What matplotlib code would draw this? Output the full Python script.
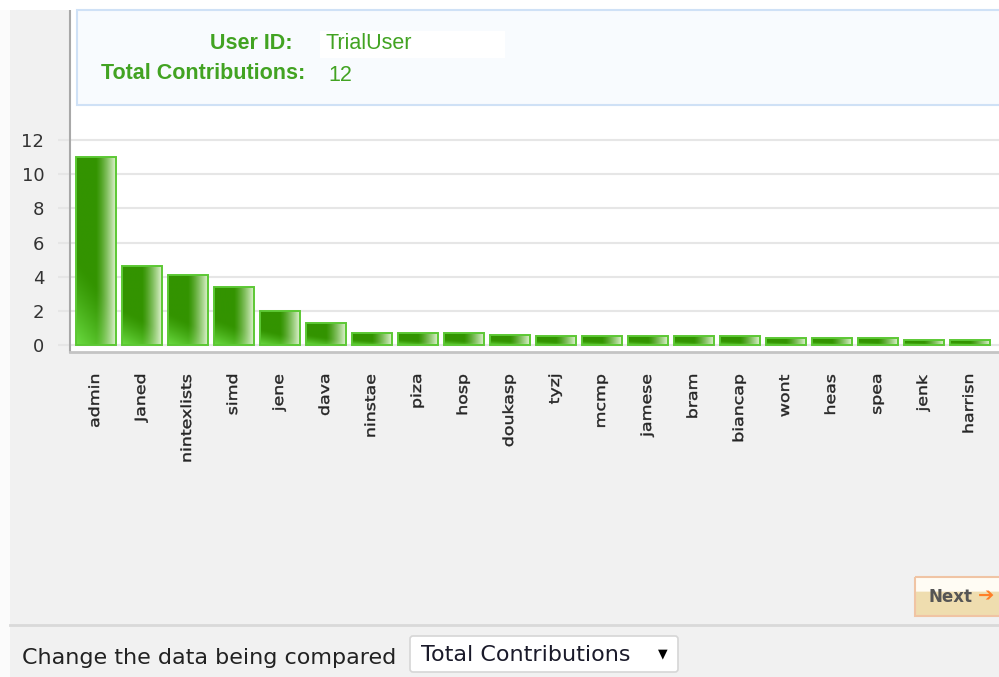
import numpy as np
import matplotlib
matplotlib.use('Agg')
import matplotlib.pyplot as plt
from matplotlib import transforms
from matplotlib.patches import Rectangle, PathPatch, FancyBboxPatch
from matplotlib.textpath import TextPath
from matplotlib.font_manager import FontProperties

# contributions per user
users = ['admin', 'Janed', 'nintexlists', 'simd', 'jene', 'dava', 'ninstae', 'piza',
         'hosp', 'doukasp', 'tyzj', 'mcmp', 'jamese', 'bram', 'biancap', 'wont',
         'heas', 'spea', 'jenk', 'harrisn']
contributions = [11.0, 4.6, 4.1, 3.4, 2.0, 1.3, 0.7, 0.7, 0.7, 0.6,
                 0.5, 0.5, 0.5, 0.5, 0.5, 0.4, 0.4, 0.4, 0.3, 0.3]
y_ticks = [0, 2, 4, 6, 8, 10, 12]
user_id = 'TrialUser'
total_contributions = 12
compare_field = 'Total Contributions'

W, H = 999, 677
green_txt = '#42a322'
fig = plt.figure(figsize=(W / 100, H / 100), dpi=100, facecolor='#f1f1f1')

#%% bar chart
px_per_unit = 17.08
ax = fig.add_axes([70 / W, 1 - 352 / H, 929 / W, 352 / H], zorder=1)
ax.set_facecolor('white')
x = np.arange(len(users))
bars = ax.bar(x, contributions, width=0.85, color='none', edgecolor='#5cc834',
              linewidth=1.4, zorder=3)

# glossy green fill: darker top-left, brighter bottom-left, pale right edge
u = np.linspace(0, 1, 64)[None, :]
v = np.linspace(0, 1, 128)[:, None]
dark = np.array([0.20, 0.58, 0.0])
bright = np.array([0.42, 0.86, 0.26])
pale = np.array([0.87, 0.95, 0.81])
w_low = np.clip(1 - v / 0.45 - u * 0.6, 0, 1) ** 1.3
w_side = np.clip((u - 0.5) / 0.47, 0, 1) ** 1.3
shade = dark + (bright - dark) * w_low[..., None]
shade = shade + (pale - shade) * (0.92 * w_side[..., None])
for b in bars:
    x0, y0, bw, bh = b.get_x(), b.get_y(), b.get_width(), b.get_height()
    im = ax.imshow(shade, extent=[x0, x0 + bw, y0, y0 + bh], origin='lower',
                   aspect='auto', interpolation='bilinear', zorder=2)
    im.set_clip_path(b)

ax.set_xlim(-26 / 46, -26 / 46 + 929 / 46)
ax.set_ylim(-7 / px_per_unit, 345 / px_per_unit)
ax.set_yticks(y_ticks)
ax.set_yticklabels([str(t) for t in y_ticks], fontsize=13, color='#333333')
ax.tick_params(axis='y', length=8.6, width=1.5, color='#e6e6e6', pad=10)
ax.set_xticks([])
ax.grid(axis='y', color='#e6e6e6', linewidth=1.5, zorder=0)
ax.set_axisbelow(True)
for s in ['top', 'right']:
    ax.spines[s].set_visible(False)
ax.spines['left'].set_color('#a8a8a8')
ax.spines['left'].set_linewidth(1.5)
ax.spines['left'].set_bounds(-7 / px_per_unit, 335 / px_per_unit)
ax.spines['bottom'].set_color('#c4c4c4')
ax.spines['bottom'].set_linewidth(2)

# rotated user names, stretched along the reading direction
fp = FontProperties(family='DejaVu Sans')
stretch = 1.24
for i, name in enumerate(users):
    tp = TextPath((0, 0), name, size=14, prop=fp)
    length = tp.get_extents().x1 * stretch
    tr = (transforms.Affine2D().scale(stretch, 1).rotate_deg(90).translate(3, -23 - length)
          + transforms.ScaledTranslation(i, 0, ax.get_xaxis_transform()))
    fig.add_artist(PathPatch(tp, transform=tr, facecolor='#262626', edgecolor='#262626',
                             linewidth=0.3))

#%% page decorations in pixel coordinates
ov = fig.add_axes([0, 0, 1, 1], zorder=2)
ov.set_xlim(0, W)
ov.set_ylim(H, 0)
ov.axis('off')
ov.patch.set_alpha(0)

ov.add_patch(Rectangle((0, 0), 10, H, facecolor='#fbfbfb', edgecolor='none'))
ov.add_patch(Rectangle((0, 0), W, 10, facecolor='white', edgecolor='none'))

# user summary box
ov.add_patch(Rectangle((77, 10), 940, 95, facecolor='#f8fbfe', edgecolor='#cfe1f6', linewidth=1.5))
ov.add_patch(Rectangle((320, 31), 185, 27, facecolor='white', edgecolor='none'))
ov.text(293, 49, 'User ID:', ha='right', va='baseline', fontsize=15.5,
        family='Liberation Sans', weight='bold', color=green_txt)
ov.text(326, 49, user_id, ha='left', va='baseline', fontsize=15.5,
        family='Liberation Sans', color=green_txt)
ov.text(305, 79, 'Total Contributions:', ha='right', va='baseline', fontsize=15.5,
        family='Liberation Sans', weight='bold', color=green_txt)
ov.text(328, 81, str(total_contributions), ha='left', va='baseline', fontsize=15.5,
        family='Liberation Sans', color=green_txt)

# next button
btn = np.ones((40, 1, 3))
btn[:] = [0.94, 0.87, 0.69]
btn[:15] = [1.0, 0.99, 0.96]
ov.imshow(btn, extent=[915, 1005, 616, 577], aspect='auto', interpolation='bilinear', zorder=3)
ov.add_patch(Rectangle((915, 577), 90, 39, facecolor='none', edgecolor='#f0c4a4', linewidth=1.5, zorder=4))
ov.text(951, 597, 'Next', ha='center', va='center', fontsize=12, weight='bold',
        color='#555555', zorder=5)
ov.text(986, 596, '\u2794', ha='center', va='center', fontsize=14, color='#ff7f27', zorder=5)

# footer
ov.plot([10, W], [625, 625], color='#d9d9d9', linewidth=2)
ov.text(22, 658, 'Change the data being compared', ha='left', va='center',
        fontsize=16, color='#222222')
ov.add_patch(FancyBboxPatch((410, 636), 268, 36, boxstyle='round,pad=0,rounding_size=3',
                            facecolor='white', edgecolor='#d6d6d6', linewidth=1.2))
ov.text(421, 655, compare_field, ha='left', va='center', fontsize=16, color='#1a1a2a')
ov.text(663, 654, '\u25bc', ha='center', va='center', fontsize=9, color='black')

ov.set_xlim(0, W)
ov.set_ylim(H, 0)
fig.savefig('out.png', dpi=100, facecolor=fig.get_facecolor())
